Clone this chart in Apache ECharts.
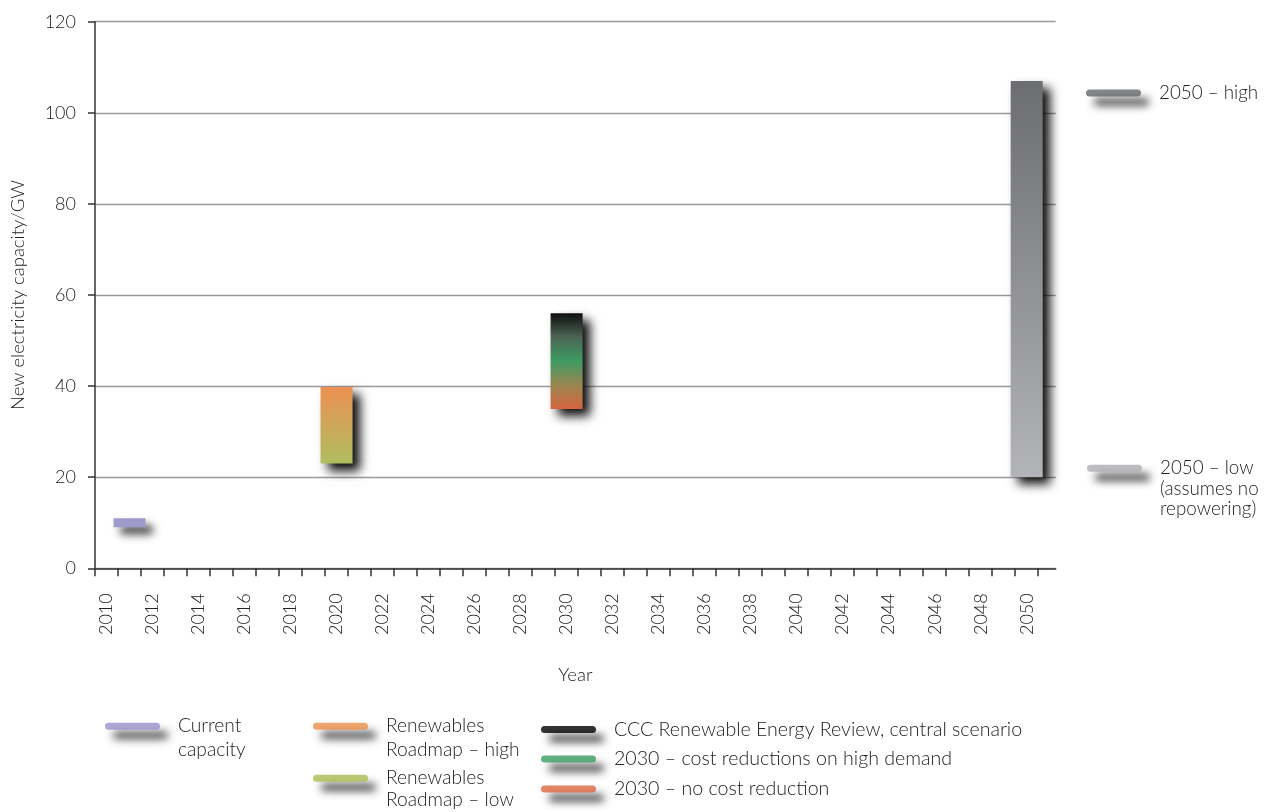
<!DOCTYPE html>
<html>
<head>
<meta charset="utf-8">
<title>New electricity capacity</title>
<script src="https://cdn.jsdelivr.net/npm/echarts@6/dist/echarts.min.js"></script>
<style>
  html, body { margin: 0; padding: 0; background: #ffffff; }
  #chart { width: 1267px; height: 812px; }
</style>
</head>
<body>
<div id="chart"></div>
<script>
// Scenario ranges of new electricity capacity (GW) by year
const barYears  = [2011, 2020, 2030, 2050];
const rangeLow  = [9, 23, 35, 20];
const rangeHigh = [11, 39.8, 56, 107];

// Axis labels
const yearLabels = [2010, 2012, 2014, 2016, 2018, 2020, 2022, 2024, 2026, 2028, 2030,
                    2032, 2034, 2036, 2038, 2040, 2042, 2044, 2046, 2048, 2050];
const capacityTicks = [0, 20, 40, 60, 80, 100, 120];

// Legend entries
const legendNames = [
  'Current capacity',
  'Renewables Roadmap – high',
  'Renewables Roadmap – low',
  'CCC Renewable Energy Review, central scenario',
  '2030 – cost reductions on high demand',
  '2030 – no cost reduction',
  '2050 – high',
  '2050 – low (assumes no repowering)'
];

const FONT = "Lato, 'Open Sans', 'DejaVu Sans', sans-serif";
const TEXT = '#222222';
const AXIS = '#333333';

const legendColors = ['#9a92cc', '#ec8e4a', '#aebb52', '#000000', '#3a9e62', '#dc6640', '#656669', '#adaeb2'];

// Tick marks sit on the boundaries between years
const yearBoundaries = [];
for (let y = yearLabels[0] - 0.5; y <= yearLabels[yearLabels.length - 1] + 0.5; y += 1) {
  yearBoundaries.push(y);
}

const G = echarts.graphic;
const barFills = [
  '#a09acc',
  new G.LinearGradient(0, 0, 0, 1, [
    { offset: 0, color: '#ec9152' },
    { offset: 1, color: '#b0bd5f' }
  ]),
  new G.LinearGradient(0, 0, 0, 1, [
    { offset: 0, color: '#0e0e0e' },
    { offset: 0.25, color: '#4b6554' },
    { offset: 0.5, color: '#3e9a63' },
    { offset: 0.75, color: '#9a8650' },
    { offset: 1, color: '#d5643f' }
  ]),
  new G.LinearGradient(0, 0, 0, 1, [
    { offset: 0, color: '#6c6d70' },
    { offset: 1, color: '#b3b4b8' }
  ])
];
const barShadows = ['rgba(0,0,0,0.75)', 'rgba(0,0,0,0.95)', 'rgba(0,0,0,0.95)', 'rgba(0,0,0,0.95)'];

const legendIconStyle = {
  shadowBlur: 9, shadowColor: 'rgba(0,0,0,0.95)', shadowOffsetX: 8, shadowOffsetY: 9
};
const pill = 'path://M3.5,0 H51.5 A3.5,3.5 0 0 1 51.5,7 H3.5 A3.5,3.5 0 0 1 3.5,0 Z';

function legendAt(index, left, top, lines, lineHeight, fontSize) {
  return {
    data: [{ name: legendNames[index], icon: pill }],
    left: left, top: top, padding: 0,
    itemWidth: 55, itemHeight: 7,
    selectedMode: false,
    itemStyle: legendIconStyle,
    textStyle: {
      fontFamily: FONT, fontSize: fontSize, fontWeight: 300, color: TEXT,
      lineHeight: lineHeight, padding: [2, 0, 0, 13]
    },
    formatter: () => lines.join('\n')
  };
}

const chart = echarts.init(document.getElementById('chart'), null, { renderer: 'canvas' });

chart.setOption({
  animation: false,
  backgroundColor: '#ffffff',
  grid: { left: 95, top: 21.7, right: 211.3, bottom: 243.7 },
  xAxis: {
    type: 'value',
    min: 2009.5,
    max: 2051.26,
    axisLine: { show: true, onZero: false, lineStyle: { color: AXIS, width: 1.5 } },
    axisTick: { show: true, length: 8, customValues: yearBoundaries, lineStyle: { color: AXIS, width: 1.5 } },
    axisLabel: {
      customValues: yearLabels,
      rotate: 90, margin: 25,
      fontFamily: FONT, fontSize: 18, fontWeight: 300, color: TEXT,
      formatter: v => String(v)
    },
    splitLine: { show: false },
    name: 'Year', nameLocation: 'middle', nameGap: 97,
    nameTextStyle: { fontFamily: FONT, fontSize: 18.5, fontWeight: 300, color: TEXT }
  },
  yAxis: {
    type: 'value',
    min: capacityTicks[0],
    max: capacityTicks[capacityTicks.length - 1],
    interval: 20,
    axisLine: { show: true, lineStyle: { color: AXIS, width: 1.5 } },
    axisTick: { show: true, length: 7, lineStyle: { color: AXIS, width: 1.5 } },
    axisLabel: {
      margin: 19, fontFamily: FONT, fontSize: 18, fontWeight: 300, color: TEXT,
      formatter: v => String(v)
    },
    splitLine: { show: true, lineStyle: { color: '#9a9a9a', width: 1.3 } },
    name: 'New electricity capacity/GW', nameLocation: 'middle', nameGap: 67, nameRotate: 90,
    nameTextStyle: { fontFamily: FONT, fontSize: 18.5, fontWeight: 300, color: TEXT }
  },
  legend: [
    legendAt(0, 105, 690, ['', 'Current', 'capacity'], 23.5, 19.2),
    legendAt(1, 313, 690, ['', 'Renewables', 'Roadmap – high'], 23.5, 19.2),
    legendAt(2, 313, 745, ['', 'Renewables', 'Roadmap – low'], 21.5, 19.2),
    legendAt(3, 541, 717.5, ['CCC Renewable Energy Review, central scenario'], 22, 19.6),
    legendAt(4, 541, 747, ['2030 – cost reductions on high demand'], 22, 19.6),
    legendAt(5, 541, 777, ['2030 – no cost reduction'], 22, 19.6),
    legendAt(6, 1086, 81, ['2050 – high'], 22, 18.8),
    legendAt(7, 1087, 416, ['', '', '2050 – low', '(assumes no', 'repowering)'], 20.5, 18.8)
  ],
  series: [
    {
      type: 'custom',
      name: 'capacity range',
      data: barYears.map((y, i) => [y, rangeLow[i], rangeHigh[i]]),
      encode: { x: 0, y: [1, 2] },
      clip: false,
      renderItem: function (params, api) {
        const x = api.value(0);
        const lo = api.coord([x, api.value(1)]);
        const hi = api.coord([x, api.value(2)]);
        const w = 32;
        const i = params.dataIndex;
        return {
          type: 'rect',
          shape: { x: lo[0] - w / 2, y: hi[1], width: w, height: lo[1] - hi[1] },
          style: {
            fill: barFills[i],
            shadowBlur: i === 0 ? 8 : 10,
            shadowColor: barShadows[i],
            shadowOffsetX: 7,
            shadowOffsetY: 7
          }
        };
      }
    }
  ].concat(legendNames.map((name, i) => ({
    type: 'scatter',
    name: name,
    data: [],
    itemStyle: { color: legendColors[i] }
  })))
});
</script>
</body>
</html>
